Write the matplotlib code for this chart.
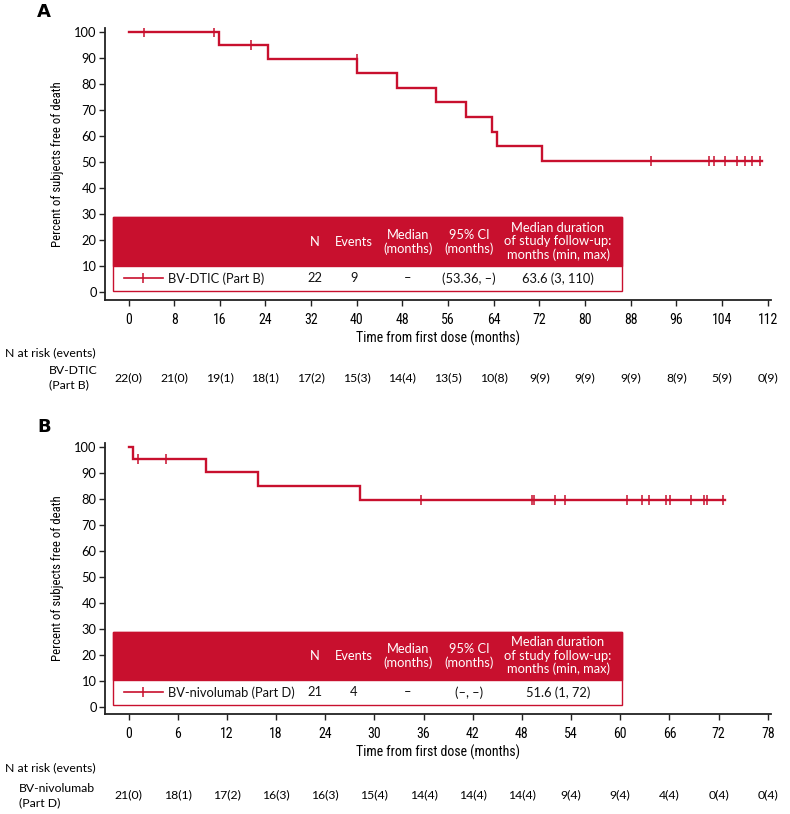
import numpy as np
import matplotlib
matplotlib.use("Agg")
import matplotlib.pyplot as plt
from matplotlib.patches import Rectangle
from matplotlib.transforms import blended_transform_factory
from matplotlib.lines import Line2D

# ---------------- data ----------------
A_event_times = [15.9, 24.4, 40.1, 47.1, 53.9, 59.2, 63.7, 64.6, 72.5]
A_surv = [95.0, 89.7, 84.2, 78.5, 73.0, 67.3, 61.5, 56.2, 50.4]
A_censor = [2.8, 14.9, 21.5, 40.0, 91.6, 101.8, 102.6, 104.6, 106.7, 108.1, 109.3, 110.7]
A_end = 111.0
A_xticks = list(range(0, 113, 8))
A_risk = ["22(0)", "21(0)", "19(1)", "18(1)", "17(2)", "15(3)", "14(4)", "13(5)",
          "10(8)", "9(9)", "9(9)", "9(9)", "8(9)", "5(9)", "0(9)"]
A_label = "BV-DTIC (Part B)"
A_row = ["22", "9", "–", "(53.36, –)", "63.6 (3, 110)"]
A_risk_name = ["BV-DTIC", "(Part B)"]

B_event_times = [0.6, 9.5, 15.8, 28.3]
B_surv = [95.2, 90.2, 84.9, 79.6]
B_censor = [1.2, 4.6, 35.7, 49.2, 49.5, 52.0, 53.3, 60.8, 62.7, 63.5, 65.6, 66.1,
            68.6, 70.2, 70.6, 72.6]
B_end = 72.8
B_xticks = list(range(0, 79, 6))
B_risk = ["21(0)", "18(1)", "17(2)", "16(3)", "16(3)", "15(4)", "14(4)", "14(4)",
          "14(4)", "9(4)", "9(4)", "4(4)", "0(4)", "0(4)"]
B_label = "BV-nivolumab (Part D)"
B_row = ["21", "4", "–", "(–, –)", "51.6 (1, 72)"]
B_risk_name = ["BV-nivolumab", "(Part D)"]

header_cols = ["N", "Events", "Median\n(months)", "95% CI\n(months)",
               "Median duration\nof study follow-up:\nmonths (min, max)"]
yticks = list(range(0, 101, 10))

# ---------------- style ----------------
RED = "#C8102E"
MAIN = ["Lato", "DejaVu Sans"]
NARROW = ["Liberation Sans Narrow", "Roboto Condensed", "DejaVu Sans"]
plt.rcParams["font.family"] = MAIN

W, H = 790, 814
fig = plt.figure(figsize=(W / 100, H / 100), dpi=100)


def fx(px):
    return px / W


def fy(py):
    return 1 - py / H


col_x = [0.3153, 0.3739, 0.4550, 0.5465, 0.6802]
TXT = 9.3


def surv_at(t, times, surv):
    s = 100.0
    for et, sv in zip(times, surv):
        if t >= et:
            s = sv
    return s


def panel(top_px, bottom_px, xmax_lim, xmin_lim, ylim, times, surv, censor, end,
          xticks, risk, label, row, risk_name, letter, risk_y):
    ax = fig.add_axes([fx(105), fy(bottom_px), (771 - 105) / W, (bottom_px - top_px) / H])
    xs = [0] + times + [end]
    ys = [100] + surv + [surv[-1]]
    ax.plot(xs, ys, drawstyle="steps-post", color=RED, lw=1.7, solid_joinstyle="miter")
    cy = [surv_at(t, times, surv) for t in censor]
    ax.plot(censor, cy, ls="none", marker="|", ms=7, mew=1.1, color=RED)
    ax.set_xlim(xmin_lim, xmax_lim)
    ax.set_ylim(*ylim)
    ax.set_xticks(xticks)
    ax.set_yticks(yticks)
    for s in ["top", "right"]:
        ax.spines[s].set_visible(False)
    for s in ["left", "bottom"]:
        ax.spines[s].set_linewidth(1.3)
        ax.spines[s].set_color("#222222")
    ax.tick_params(axis="both", direction="out", length=4, width=1, color="#222222")
    ax.tick_params(axis="y", labelsize=9.3, pad=2)
    ax.tick_params(axis="x", labelsize=10, pad=5)
    for t in ax.get_xticklabels():
        t.set_family(NARROW)
    ax.set_xlabel("Time from first dose (months)", family=NARROW, fontsize=10, labelpad=3)
    ax.set_ylabel("Percent of subjects free of death", family=NARROW, fontsize=9.2,
                  labelpad=7)

    # inset table
    L, R = 0.0125, 0.7758
    top, mid, bot = 0.304, 0.125, 0.034
    ax.add_patch(Rectangle((L, bot), R - L, top - bot, transform=ax.transAxes,
                           facecolor="white", edgecolor=RED, lw=1.0, zorder=5))
    ax.add_patch(Rectangle((L, mid), R - L, top - mid, transform=ax.transAxes,
                           facecolor=RED, edgecolor=RED, lw=1.0, zorder=6))
    hy = 0.2143
    for x, txt in zip(col_x, header_cols):
        ax.text(x, hy, txt, transform=ax.transAxes, ha="center", va="center",
                color="white", fontsize=TXT, linespacing=1.12, zorder=7)
    ry = 0.0798
    ax.add_line(Line2D([0.0285, 0.0871], [ry, ry], transform=ax.transAxes,
                       color=RED, lw=1.2, zorder=7))
    ax.plot([0.0578], [ry], transform=ax.transAxes, marker="|", ms=7, mew=1.1,
            color=RED, zorder=7)
    ax.text(0.0946, ry, label, transform=ax.transAxes, ha="left", va="center",
            fontsize=TXT, color="#111111", zorder=7)
    for x, txt in zip(col_x, row):
        ax.text(x, ry, txt, transform=ax.transAxes, ha="center", va="center",
                fontsize=TXT, color="#111111", zorder=7)

    # panel letter
    fig.text(fx(37), fy(top_px - 16), letter, fontsize=13, fontweight="bold",
             ha="left", va="center", family=["DejaVu Sans"])

    # risk table
    ny, n1, n2, nv = risk_y
    fig.text(fx(5), fy(ny), "N at risk (events)", fontsize=8.8, ha="left", va="center")
    fig.text(fx(risk_name_x[letter]), fy(n1), risk_name[0], fontsize=8.8, ha="left", va="center")
    fig.text(fx(risk_name_x[letter]), fy(n2), risk_name[1], fontsize=8.8, ha="left", va="center")
    tr = blended_transform_factory(ax.transData, fig.transFigure)
    for x, txt in zip(xticks, risk):
        ax.text(x, fy(nv), txt, transform=tr, ha="center", va="center", fontsize=8.8,
                clip_on=False)
    return ax


risk_name_x = {"A": 49, "B": 19}

panel(28, 300, 112.6, -4.12, (-3.08, 101.6), A_event_times, A_surv, A_censor, A_end,
      A_xticks, A_risk, A_label, A_row, A_risk_name, "A", (353, 371, 385, 378))
panel(443, 714, 78.4, -2.87, (-2.8, 101.4), B_event_times, B_surv, B_censor, B_end,
      B_xticks, B_risk, B_label, B_row, B_risk_name, "B", (768, 788, 803, 795))

fig.savefig("out.png", dpi=100)
